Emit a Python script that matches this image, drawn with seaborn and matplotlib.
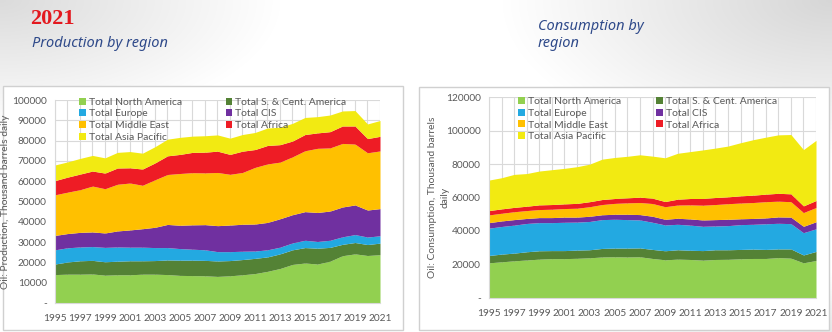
import numpy as np
import matplotlib
matplotlib.use("Agg")
import matplotlib.pyplot as plt
import seaborn as sns
from matplotlib.patches import Rectangle
from matplotlib.ticker import FuncFormatter, MultipleLocator, FixedLocator

# ---- data (thousand barrels daily) ----
years = list(range(1995, 2022))
year_ticks = years[::2]
regions = ["Total North America", "Total S. & Cent. America", "Total Europe",
           "Total CIS", "Total Middle East", "Total Africa", "Total Asia Pacific"]

prod_north_america = [14.0, 14.2, 14.2, 14.3, 13.7, 13.9, 13.9, 14.2, 14.2, 14.0, 13.6, 13.5, 13.4, 13.1,
                      13.4, 13.9, 14.5, 15.6, 17.0, 19.0, 19.7, 19.2, 20.6, 23.3, 24.2, 23.4, 23.8]
prod_sc_america = [5.2, 6.0, 6.6, 6.7, 6.6, 6.7, 6.9, 6.6, 6.7, 7.2, 7.5, 7.6, 7.6, 7.6,
                   7.5, 7.5, 7.5, 7.1, 7.2, 7.2, 7.6, 7.8, 6.8, 5.6, 5.6, 5.4, 5.7]
prod_europe = [7.0, 7.0, 6.8, 6.8, 7.1, 7.0, 6.7, 6.7, 6.4, 6.1, 5.7, 5.4, 5.2, 4.6,
               4.4, 4.1, 3.6, 3.5, 3.3, 3.4, 3.6, 3.3, 3.5, 3.7, 3.9, 3.7, 3.6]
prod_cis = [7.1, 7.0, 7.2, 7.2, 7.1, 7.9, 8.5, 9.1, 10.0, 11.4, 11.5, 12.0, 12.4, 12.8,
            13.1, 13.3, 13.3, 13.5, 14.0, 13.9, 14.1, 14.3, 14.4, 14.7, 14.6, 13.3, 13.4]
prod_middle_east = [20.0, 20.4, 21.0, 22.6, 21.8, 23.0, 23.1, 21.4, 23.4, 24.6, 25.5, 25.7, 25.5, 26.2,
                    25.0, 25.5, 27.9, 28.8, 27.9, 28.5, 30.0, 31.6, 31.1, 31.3, 30.0, 28.2, 28.4]
prod_africa = [7.0, 7.4, 7.7, 7.4, 7.7, 8.0, 7.5, 8.0, 8.3, 9.2, 9.4, 10.0, 10.2, 10.5,
               9.8, 10.5, 8.8, 9.1, 8.6, 7.8, 8.0, 7.6, 8.0, 8.6, 8.9, 7.0, 7.2]
prod_asia_pacific = [7.7, 7.5, 7.7, 7.7, 7.5, 7.7, 8.0, 7.8, 8.0, 8.2, 8.4, 8.0, 8.1, 8.0,
                     8.0, 8.2, 8.4, 8.6, 8.6, 8.7, 8.4, 8.0, 8.2, 7.4, 7.6, 7.2, 7.8]

cons_north_america = [21.0, 21.6, 22.2, 22.7, 23.2, 23.5, 23.5, 23.7, 24.0, 24.5, 24.6, 24.5, 24.6, 23.6,
                      22.8, 23.2, 23.0, 22.6, 23.0, 23.1, 23.4, 23.6, 23.6, 24.1, 23.8, 21.0, 22.4]
cons_sc_america = [4.4, 4.6, 4.6, 4.9, 5.0, 4.8, 4.8, 4.9, 4.8, 5.1, 5.2, 5.3, 5.3, 5.4,
                   5.4, 5.6, 5.5, 5.7, 5.8, 5.7, 5.6, 5.6, 5.4, 5.2, 5.5, 4.7, 5.4]
cons_europe = [16.3, 16.5, 16.7, 16.9, 16.8, 16.7, 16.9, 16.7, 16.9, 17.2, 17.2, 17.0, 16.7, 16.2,
               15.4, 15.2, 15.0, 14.5, 14.2, 14.4, 14.8, 14.8, 15.3, 15.3, 15.1, 13.3, 13.5]
cons_cis = [3.3, 3.3, 3.3, 3.0, 3.0, 3.0, 3.1, 3.0, 3.1, 2.9, 3.0, 3.2, 3.2, 3.6,
            3.4, 3.6, 3.7, 3.8, 3.8, 3.8, 3.5, 3.5, 3.5, 3.8, 3.9, 3.8, 4.2]
cons_middle_east = [4.6, 4.6, 4.7, 4.7, 4.8, 5.0, 5.1, 5.3, 5.7, 6.1, 6.5, 6.8, 7.2, 7.6,
                    7.5, 7.9, 8.4, 8.8, 9.0, 9.3, 9.4, 9.5, 9.7, 9.4, 9.2, 8.2, 8.5]
cons_africa = [2.6, 2.6, 2.6, 2.6, 2.8, 2.8, 2.8, 2.9, 3.0, 3.0, 2.9, 3.0, 3.2, 3.2,
               3.1, 3.5, 3.8, 4.0, 4.2, 4.1, 4.3, 4.4, 4.5, 4.7, 4.7, 4.0, 4.2]
cons_asia_pacific = [18.2, 18.6, 19.7, 19.5, 20.2, 20.8, 21.2, 21.9, 22.4, 24.1, 24.5, 24.8, 25.3, 25.1,
                     26.1, 27.4, 28.0, 29.0, 29.5, 30.3, 31.7, 33.1, 34.0, 34.9, 35.4, 33.6, 35.9]

production = [prod_north_america, prod_sc_america, prod_europe, prod_cis,
              prod_middle_east, prod_africa, prod_asia_pacific]
consumption = [cons_north_america, cons_sc_america, cons_europe, cons_cis,
               cons_middle_east, cons_africa, cons_asia_pacific]

colors = ["#92D050", "#548235", "#23A9E1", "#7030A0", "#FFC000", "#EE1C25", "#F2EA12"]

# ---- style ----
sns.set_style("white")
plt.rcParams["font.family"] = ["Lato", "DejaVu Sans"]
TXT = "#595959"
GRID = "#D9D9D9"

fig = plt.figure(figsize=(8.32, 3.32), dpi=100)

# soft grey shading behind the panels
bg = fig.add_axes([0, 0, 1, 1], zorder=-10)
H, W = 332, 832
yy, xx = np.mgrid[0:H, 0:W]
d_tl = np.sqrt((xx / 280.0) ** 2 + (yy / 130.0) ** 2)
d_tr = np.sqrt(((W - xx) / 330.0) ** 2 + (yy / 160.0) ** 2)
d_br = np.sqrt(((W - xx) / 220.0) ** 2 + ((H - yy) / 60.0) ** 2)
shade = 0.14 * np.clip(1 - d_tl, 0, 1) + 0.16 * np.clip(1 - d_tr, 0, 1) + 0.10 * np.clip(1 - d_br, 0, 1)
img = np.clip(1 - shade, 0, 1)
bg.imshow(np.dstack([img, img, img]), extent=[0, W, H, 0], aspect="auto")
bg.set_xlim(0, W)
bg.set_ylim(H, 0)
bg.axis("off")

# white chart panels
for (x0, y0, x1, y1) in [(3, 86, 403, 330), (419, 87, 829, 330)]:
    bg.add_patch(Rectangle((x0, y0), x1 - x0, y1 - y0, facecolor="white",
                           edgecolor="#D0D0D0", linewidth=1.0))

fig.text(30 / W, 1 - 24 / H, "2021", color="#E3191F", fontsize=16, fontweight="bold",
         family=["Liberation Serif", "DejaVu Serif"], ha="left", va="baseline")
fig.text(32 / W, 1 - 47 / H, "Production by region", color="#2F4A8A", fontsize=10.5,
         style="italic", family=["Noto Sans", "DejaVu Sans"], ha="left", va="baseline")
fig.text(538 / W, 1 - 47 / H, "Consumption by\nregion", color="#2F4A8A", fontsize=10.5,
         style="italic", family=["Noto Sans", "DejaVu Sans"], ha="left", va="baseline",
         linespacing=1.15)


def dash_zero(v, pos):
    return "-" if abs(v) < 1e-9 else f"{int(round(v))}"


def draw_panel(rect, series, ymax, ystep, ylabel_lines, label_xs, legend_anchor, colspacing):
    ax = fig.add_axes(rect)
    ax.set_axisbelow(True)
    values = [np.array(s) * 1000 for s in series]
    ax.stackplot(years, *values, colors=colors, labels=regions, linewidth=0)
    ax.set_xlim(years[0], years[-1])
    ax.set_ylim(0, ymax)
    ax.xaxis.set_major_locator(FixedLocator(year_ticks))
    ax.xaxis.set_minor_locator(MultipleLocator(1))
    ax.yaxis.set_major_locator(MultipleLocator(ystep))
    ax.yaxis.set_major_formatter(FuncFormatter(dash_zero))
    ax.grid(True, which="both", axis="x", color=GRID, linewidth=0.8)
    ax.grid(True, which="major", axis="y", color=GRID, linewidth=0.8)
    for side in ["top", "right"]:
        ax.spines[side].set_visible(False)
    for side in ["left", "bottom"]:
        ax.spines[side].set_color(GRID)
        ax.spines[side].set_linewidth(0.8)
    ax.tick_params(axis="both", which="both", length=0, labelsize=7.3, colors=TXT)
    ax.tick_params(axis="x", pad=8)
    ax.tick_params(axis="y", pad=6)
    # axis title: each line centred on the plot height
    for line, lx in zip(ylabel_lines, label_xs):
        ax.text(lx, 0.5, line, transform=ax.transAxes, rotation=90,
                ha="center", va="center", color=TXT, fontsize=7.4)

    handles, labels = ax.get_legend_handles_labels()
    order = [0, 2, 4, 6, 1, 3, 5]
    ax.legend([handles[i] for i in order], [labels[i] for i in order], ncol=2,
              loc="upper left", bbox_to_anchor=legend_anchor, frameon=False,
              fontsize=7.5, labelcolor=TXT, handlelength=0.65, handleheight=0.65,
              handletextpad=0.25, labelspacing=0.25, columnspacing=colspacing,
              borderaxespad=0, borderpad=0)
    return ax


draw_panel([55 / W, 29 / H, 325 / W, 203 / H], production, 100000, 10000,
           ["Oil: Production, Thousand barrels daily"], [-0.152], (0.075, 1.012), 4.2)
draw_panel([489 / W, 34 / H, 327 / W, 201 / H], consumption, 120000, 20000,
           ["Oil: Consumption, Thousand barrels", "daily"], [-0.174, -0.135], (0.09, 1.0), 3.4)

fig.savefig("out.png", dpi=100)
